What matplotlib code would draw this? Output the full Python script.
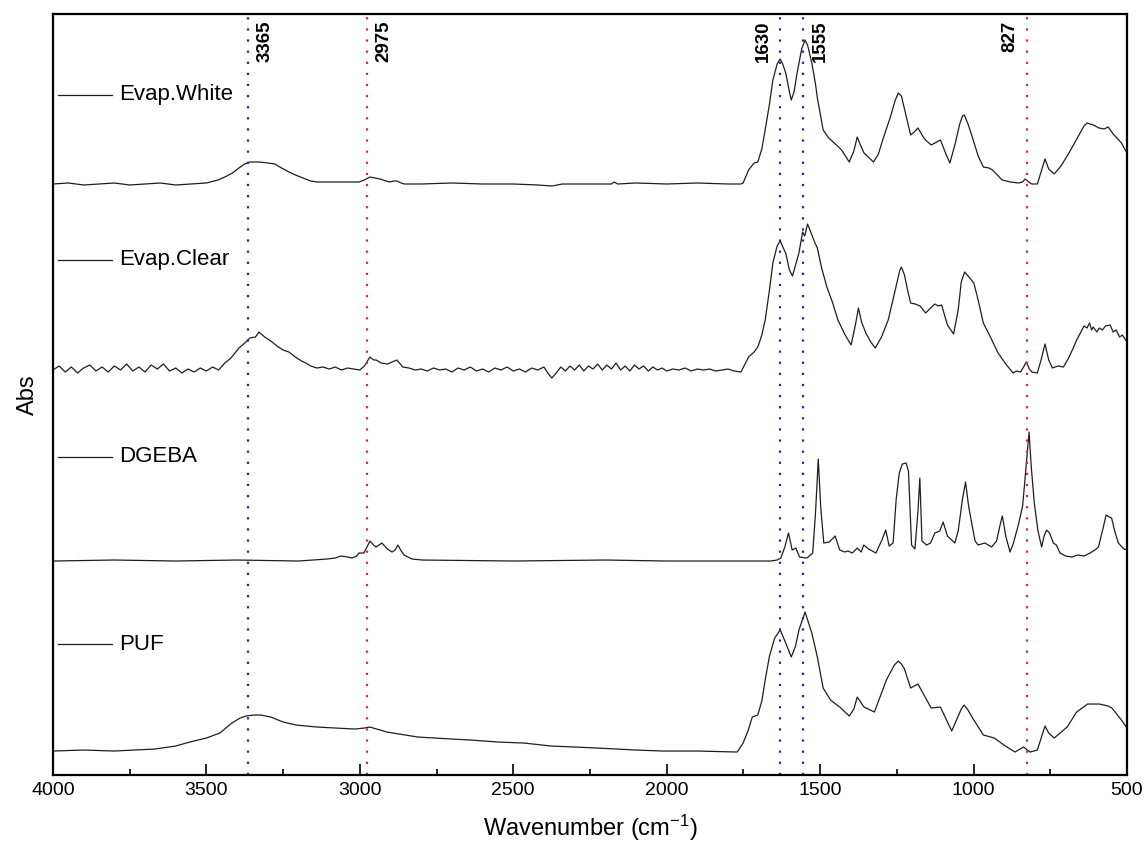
import matplotlib
matplotlib.use("Agg")
import matplotlib.pyplot as plt
import numpy as np
from matplotlib.ticker import MultipleLocator

plt.rcParams['font.family'] = ['Liberation Sans', 'DejaVu Sans']
plt.rcParams['mathtext.default'] = 'regular'

# FTIR spectra: (wavenumber cm-1, absorbance above the trace baseline)
evap_white = [
    (4000, 0.00), (3950, 0.01), (3900, -0.01), (3850, 0.00), (3800, 0.01), (3750, -0.01),
    (3700, 0.00), (3650, 0.01), (3600, -0.01), (3550, 0.00), (3500, 0.01), (3462, 0.04),
    (3440, 0.07), (3415, 0.11), (3394, 0.16), (3375, 0.20), (3358, 0.22), (3329, 0.22),
    (3300, 0.21), (3277, 0.20), (3255, 0.16), (3231, 0.12), (3210, 0.09), (3185, 0.06),
    (3160, 0.03), (3140, 0.02), (3100, 0.02), (3050, 0.02), (3003, 0.02), (2985, 0.04),
    (2967, 0.07), (2950, 0.06), (2934, 0.05), (2915, 0.03), (2902, 0.02), (2890, 0.03),
    (2879, 0.03), (2865, 0.01), (2856, 0.00), (2800, 0.00), (2700, 0.01), (2600, 0.00),
    (2500, 0.00), (2420, -0.01), (2374, -0.02), (2340, 0.00), (2300, 0.00), (2227, 0.00),
    (2180, 0.00), (2171, 0.02), (2160, 0.00), (2100, 0.01), (2000, 0.00), (1900, 0.01),
    (1800, 0.00), (1758, 0.00), (1751, 0.01), (1733, 0.14), (1715, 0.21), (1703, 0.22),
    (1690, 0.35), (1679, 0.54), (1665, 0.80), (1654, 1.04), (1640, 1.20), (1630, 1.25),
    (1622, 1.20), (1612, 1.11), (1600, 0.92), (1594, 0.84), (1585, 0.92), (1575, 1.11),
    (1560, 1.35), (1549, 1.44), (1540, 1.38), (1527, 1.21), (1515, 1.00), (1509, 0.86),
    (1490, 0.54), (1472, 0.46), (1450, 0.40), (1430, 0.34), (1405, 0.22), (1390, 0.33),
    (1379, 0.47), (1370, 0.40), (1357, 0.31), (1340, 0.26), (1326, 0.22), (1310, 0.30),
    (1296, 0.44), (1270, 0.68), (1255, 0.84), (1245, 0.91), (1235, 0.88), (1225, 0.75),
    (1205, 0.49), (1193, 0.52), (1181, 0.56), (1160, 0.45), (1138, 0.39), (1120, 0.42),
    (1108, 0.44), (1090, 0.30), (1077, 0.21), (1060, 0.40), (1045, 0.60), (1036, 0.68),
    (1030, 0.69), (1018, 0.60), (1004, 0.47), (985, 0.28), (968, 0.17), (950, 0.16),
    (938, 0.14), (907, 0.04), (880, 0.02), (853, 0.01), (840, 0.02), (832, 0.05),
    (820, 0.02), (810, 0.00), (792, 0.00), (780, 0.12), (767, 0.25), (755, 0.15),
    (737, 0.10), (715, 0.18), (689, 0.31), (660, 0.47), (640, 0.58), (630, 0.61),
    (610, 0.59), (591, 0.56), (575, 0.55), (561, 0.57), (545, 0.50), (518, 0.41),
    (500, 0.31),
]

evap_clear = [
    (4000, 0.00), (3980, 0.04), (3960, -0.02), (3940, 0.03), (3920, -0.03), (3900, 0.02),
    (3880, 0.05), (3860, -0.01), (3840, 0.03), (3820, -0.02), (3800, 0.04), (3780, 0.00),
    (3760, 0.06), (3740, -0.01), (3720, 0.03), (3700, -0.02), (3680, 0.05), (3660, 0.01),
    (3640, 0.06), (3620, -0.01), (3600, 0.02), (3580, -0.03), (3560, 0.01), (3540, -0.02),
    (3520, 0.02), (3500, -0.01), (3480, 0.03), (3460, 0.00), (3440, 0.07), (3420, 0.12),
    (3394, 0.22), (3375, 0.27), (3358, 0.32), (3340, 0.33), (3329, 0.38), (3310, 0.33),
    (3290, 0.29), (3270, 0.24), (3250, 0.20), (3231, 0.18), (3210, 0.13), (3190, 0.09),
    (3176, 0.07), (3160, 0.04), (3140, 0.02), (3120, 0.03), (3100, 0.01), (3080, 0.03),
    (3060, 0.00), (3040, 0.02), (3020, 0.01), (3000, 0.00), (2985, 0.04), (2967, 0.13),
    (2955, 0.10), (2947, 0.10), (2930, 0.07), (2910, 0.06), (2895, 0.08), (2879, 0.10),
    (2860, 0.03), (2840, 0.02), (2820, 0.00), (2800, 0.01), (2780, -0.01), (2760, 0.02),
    (2740, 0.00), (2720, 0.01), (2700, -0.02), (2680, 0.02), (2660, 0.00), (2640, 0.03),
    (2620, -0.01), (2600, 0.01), (2580, -0.02), (2560, 0.02), (2540, 0.00), (2520, 0.03),
    (2500, -0.01), (2480, 0.01), (2460, -0.02), (2440, 0.02), (2420, 0.00), (2400, 0.03),
    (2385, -0.04), (2374, -0.08), (2360, -0.03), (2345, 0.03), (2330, -0.01), (2315, 0.04),
    (2300, 0.00), (2285, 0.05), (2270, -0.01), (2255, 0.04), (2240, 0.01), (2225, 0.06),
    (2210, 0.00), (2195, 0.05), (2180, 0.01), (2165, 0.07), (2150, 0.00), (2135, 0.04),
    (2120, -0.01), (2105, 0.05), (2090, 0.01), (2075, 0.04), (2060, -0.01), (2045, 0.03),
    (2030, 0.00), (2015, 0.02), (2000, -0.01), (1980, 0.01), (1960, 0.00), (1940, 0.02),
    (1920, -0.01), (1900, 0.01), (1880, 0.00), (1860, 0.01), (1840, -0.01), (1820, 0.00),
    (1800, 0.01), (1780, -0.01), (1758, -0.02), (1733, 0.13), (1715, 0.18), (1703, 0.23),
    (1690, 0.35), (1679, 0.50), (1665, 0.80), (1654, 1.07), (1640, 1.24), (1630, 1.29),
    (1620, 1.22), (1612, 1.17), (1600, 1.00), (1590, 0.94), (1580, 1.05), (1569, 1.17),
    (1557, 1.38), (1550, 1.34), (1541, 1.46), (1533, 1.40), (1527, 1.35), (1518, 1.28),
    (1509, 1.22), (1495, 1.02), (1478, 0.83), (1460, 0.68), (1442, 0.50), (1420, 0.36),
    (1399, 0.25), (1385, 0.45), (1375, 0.62), (1365, 0.48), (1351, 0.37), (1335, 0.28),
    (1320, 0.22), (1300, 0.33), (1278, 0.50), (1255, 0.80), (1240, 1.00), (1235, 1.03),
    (1225, 0.95), (1215, 0.80), (1205, 0.67), (1190, 0.66), (1174, 0.64), (1156, 0.57),
    (1140, 0.62), (1126, 0.66), (1115, 0.64), (1104, 0.65), (1085, 0.45), (1065, 0.36),
    (1050, 0.60), (1040, 0.88), (1029, 0.98), (1015, 0.93), (999, 0.87), (985, 0.70),
    (968, 0.47), (945, 0.33), (920, 0.17), (895, 0.06), (871, -0.03), (860, -0.01),
    (847, -0.02), (835, 0.04), (828, 0.08), (818, 0.01), (810, -0.02), (792, -0.03),
    (780, 0.10), (767, 0.26), (755, 0.10), (743, 0.02), (725, 0.04), (707, 0.03),
    (690, 0.12), (675, 0.22), (664, 0.30), (650, 0.38), (640, 0.44), (630, 0.42),
    (622, 0.47), (615, 0.40), (610, 0.43), (598, 0.38), (590, 0.42), (580, 0.40),
    (570, 0.44), (555, 0.45), (545, 0.38), (535, 0.40), (524, 0.33), (515, 0.35),
    (500, 0.28),
]

dgeba = [
    (4000, 0.00), (3800, 0.01), (3600, 0.00), (3400, 0.01), (3200, 0.00), (3107, 0.02),
    (3080, 0.03), (3061, 0.05), (3040, 0.04), (3026, 0.03), (3010, 0.05), (3003, 0.08),
    (2987, 0.08), (2975, 0.15), (2967, 0.20), (2955, 0.16), (2947, 0.14), (2938, 0.16),
    (2928, 0.18), (2910, 0.12), (2895, 0.09), (2885, 0.11), (2876, 0.16), (2865, 0.10),
    (2856, 0.06), (2830, 0.02), (2797, 0.01), (2500, 0.00), (2200, 0.01), (2000, 0.00),
    (1800, 0.00), (1660, 0.00), (1640, 0.01), (1628, 0.03), (1615, 0.14), (1603, 0.28),
    (1591, 0.11), (1579, 0.13), (1567, 0.04), (1543, 0.03), (1524, 0.08), (1515, 0.48),
    (1506, 1.02), (1498, 0.54), (1488, 0.18), (1470, 0.19), (1451, 0.25), (1436, 0.11),
    (1420, 0.09), (1409, 0.10), (1395, 0.08), (1379, 0.13), (1366, 0.09), (1358, 0.16),
    (1342, 0.12), (1318, 0.08), (1300, 0.20), (1286, 0.31), (1275, 0.15), (1262, 0.18),
    (1252, 0.62), (1242, 0.88), (1232, 0.97), (1220, 0.98), (1212, 0.90), (1202, 0.16),
    (1191, 0.12), (1181, 0.50), (1175, 0.83), (1168, 0.20), (1153, 0.16), (1140, 0.18),
    (1126, 0.28), (1110, 0.30), (1099, 0.39), (1085, 0.25), (1061, 0.18), (1050, 0.30),
    (1036, 0.62), (1026, 0.79), (1016, 0.55), (1006, 0.38), (995, 0.20), (985, 0.16),
    (963, 0.18), (941, 0.14), (925, 0.20), (912, 0.38), (906, 0.45), (895, 0.25),
    (881, 0.09), (870, 0.18), (854, 0.36), (840, 0.55), (830, 0.90), (819, 1.29),
    (812, 0.95), (802, 0.58), (790, 0.30), (778, 0.14), (770, 0.25), (762, 0.31),
    (752, 0.28), (740, 0.18), (730, 0.16), (718, 0.08), (700, 0.05), (680, 0.04),
    (660, 0.06), (640, 0.05), (620, 0.08), (600, 0.12), (593, 0.14), (580, 0.30),
    (568, 0.46), (558, 0.44), (550, 0.43), (540, 0.30), (528, 0.18), (510, 0.12),
    (496, 0.11),
]

puf = [
    (4000, 0.00), (3900, 0.01), (3800, 0.00), (3668, 0.02), (3600, 0.05), (3554, 0.09),
    (3500, 0.13), (3456, 0.18), (3417, 0.28), (3390, 0.33), (3371, 0.35), (3345, 0.36),
    (3322, 0.36), (3290, 0.34), (3250, 0.29), (3208, 0.26), (3140, 0.24), (3080, 0.23),
    (3016, 0.22), (2985, 0.23), (2967, 0.24), (2945, 0.22), (2912, 0.19), (2811, 0.14),
    (2700, 0.12), (2638, 0.11), (2550, 0.09), (2465, 0.08), (2377, 0.05), (2300, 0.04),
    (2227, 0.03), (2100, 0.01), (2013, 0.00), (1900, 0.00), (1770, -0.01), (1751, 0.08),
    (1735, 0.20), (1721, 0.34), (1703, 0.36), (1690, 0.50), (1679, 0.71), (1665, 0.95),
    (1648, 1.13), (1630, 1.21), (1612, 1.08), (1594, 0.94), (1580, 1.05), (1569, 1.21),
    (1549, 1.39), (1527, 1.18), (1509, 0.94), (1490, 0.63), (1466, 0.51), (1436, 0.44),
    (1405, 0.35), (1390, 0.42), (1379, 0.54), (1357, 0.44), (1323, 0.39), (1284, 0.71),
    (1258, 0.86), (1245, 0.90), (1235, 0.87), (1225, 0.82), (1205, 0.63), (1181, 0.67),
    (1138, 0.43), (1108, 0.44), (1071, 0.20), (1040, 0.42), (1031, 0.46), (1020, 0.42),
    (999, 0.31), (968, 0.16), (932, 0.13), (901, 0.06), (865, -0.01), (837, 0.04),
    (816, -0.01), (792, 0.01), (767, 0.25), (755, 0.18), (737, 0.13), (695, 0.24),
    (664, 0.39), (628, 0.47), (590, 0.47), (561, 0.45), (549, 0.43), (518, 0.31),
    (500, 0.23),
]

trace_names = ["Evap.White", "Evap.Clear", "DGEBA", "PUF"]
trace_data = [evap_white, evap_clear, dgeba, puf]
trace_offsets = [5.91, 4.05, 2.14, 0.24]
label_heights = [0.894, 0.677, 0.418, 0.172]

# marked band positions (cm-1) and their colours
band_positions = [3365, 2975, 1630, 1555, 827]
band_labels = ["3365", "2975", "1630", "1555", "827"]
band_colors = ["#26268f", "#c8303a", "#26268f", "#26268f", "#c8303a"]
band_label_side = ["right", "right", "left", "right", "left"]

fig = plt.figure(figsize=(11.44, 8.58), dpi=100)
ax = fig.add_axes([0.0463, 0.0967, 0.9388, 0.887])

for data, off in zip(trace_data, trace_offsets):
    arr = np.array(data)
    ax.plot(arr[:, 0], arr[:, 1] + off, color="#1e1e1e", lw=0.9)

for pos, lab, col, side in zip(band_positions, band_labels, band_colors, band_label_side):
    ax.axvline(pos, color=col, lw=1.6, linestyle=(0, (1, 4)))
    dx = 6 if side == "right" else -6
    ax.annotate(lab, xy=(pos, 1.0), xycoords=("data", "axes fraction"),
                xytext=(dx, -5), textcoords="offset points",
                rotation=90, ha="left" if side == "right" else "right", va="top",
                fontsize=13.5, fontweight="bold", color="black")

# sample key beside each trace
for name, yh in zip(trace_names, label_heights):
    ax.plot([0.0047, 0.055], [yh, yh], transform=ax.transAxes, color="#1e1e1e", lw=0.9,
            clip_on=False)
    ax.text(0.0615, yh, name, transform=ax.transAxes, fontsize=16, va="center", ha="left")

ax.set_xlim(4000, 500)
ax.set_ylim(0, 7.61)
ax.xaxis.set_major_locator(MultipleLocator(500))
ax.xaxis.set_minor_locator(MultipleLocator(250))
ax.set_yticks([])
ax.tick_params(axis="x", which="both", direction="in", top=False, labelsize=14, pad=5)
ax.tick_params(axis="x", which="major", length=8, width=1.2)
ax.tick_params(axis="x", which="minor", length=4.5, width=1.2)
for sp in ax.spines.values():
    sp.set_linewidth(1.6)

ax.set_xlabel("Wavenumber (cm$^{-1}$)", fontsize=17, labelpad=10)
ax.set_ylabel("Abs", fontsize=17, labelpad=10)

fig.savefig("out.png", dpi=100)
